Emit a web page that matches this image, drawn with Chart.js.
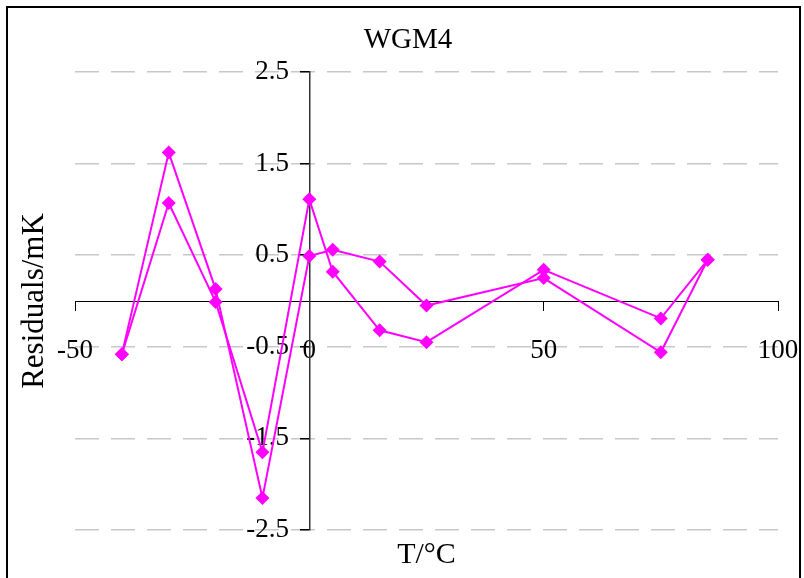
<!DOCTYPE html>
<html>
<head>
<meta charset="utf-8">
<title>WGM4</title>
<script src="https://cdn.jsdelivr.net/npm/chart.js@4"></script>
<style>
  html, body { margin: 0; padding: 0; background: #fff; }
  #wrap { position: relative; width: 804px; height: 578px; overflow: hidden; }
  #frame { position: absolute; left: 6px; top: 6px; width: 795px; height: 620px; border: 2px solid #000; box-sizing: border-box; }
  canvas { position: absolute; left: 0; top: 0; }
</style>
</head>
<body>
<div id="wrap">
  <div id="frame"></div>
  <canvas id="chart" width="804" height="578"></canvas>
</div>
<script>
// Daten
const temps = [-40, -30, -20, -10, 0, 5, 15, 25, 50, 75, 85];
const residualsA = [-0.58, 1.62, 0.13, -2.15, 0.49, 0.56, 0.43, -0.05, 0.25, -0.56, 0.45];
const residualsB = [-0.58, 1.07, -0.01, -1.65, 1.11, 0.32, -0.32, -0.45, 0.34, -0.19, 0.45];

const xTicks = [-50, 0, 50, 100];
const yTicks = [-2.5, -1.5, -0.5, 0.5, 1.5, 2.5];

const titleText = "WGM4";
const xTitle = "T/°C";
const yTitle = "Residuals/mK";

const serif = "'Liberation Serif', 'Times New Roman', serif";
const magenta = "#ff00ff";

function toPoints(ys) {
  return temps.map((t, i) => ({ x: t, y: ys[i] }));
}

function makeDataset(ys) {
  return {
    data: toPoints(ys),
    showLine: true,
    borderColor: magenta,
    backgroundColor: magenta,
    borderWidth: 2,
    pointStyle: "rectRot",
    pointRadius: 7,
    pointHoverRadius: 7,
    pointBorderWidth: 0,
    tension: 0,
  };
}

// Titel und Achsentitel zeichnen (Excel-Stil)
const titlesPlugin = {
  id: "titles",
  afterDraw(chart) {
    const ctx = chart.ctx;
    const area = chart.chartArea;
    ctx.save();
    ctx.fillStyle = "#000";
    ctx.textAlign = "center";
    ctx.textBaseline = "middle";
    ctx.font = "29px " + serif;
    ctx.fillText(titleText, 408, 40);
    ctx.font = "30px " + serif;
    ctx.fillText(xTitle, (area.left + area.right) / 2, 555);
    ctx.font = "31px " + serif;
    ctx.translate(35, (area.top + area.bottom) / 2);
    ctx.rotate(-Math.PI / 2);
    ctx.fillText(yTitle, 0, 0);
    ctx.restore();
  },
};

const ctx = document.getElementById("chart").getContext("2d");
new Chart(ctx, {
  type: "scatter",
  data: {
    datasets: [makeDataset(residualsA), makeDataset(residualsB)],
  },
  options: {
    responsive: false,
    animation: false,
    layout: {
      padding: { left: 75, right: 26, top: 72, bottom: 48 },
    },
    plugins: {
      legend: { display: false },
      tooltip: { enabled: false },
      title: { display: false },
    },
    scales: {
      x: {
        type: "linear",
        position: { y: 0 },
        min: -50,
        max: 100,
        afterBuildTicks: (axis) => {
          axis.ticks = xTicks.map((v) => ({ value: v }));
        },
        afterFit: (axis) => {
          axis.paddingLeft = 0;
          axis.paddingRight = 0;
        },
        grid: {
          drawOnChartArea: false,
          drawTicks: true,
          tickLength: 9,
          tickColor: "#000",
          color: "#000",
        },
        border: { display: true, color: "#000", width: 1 },
        ticks: {
          color: "#000",
          padding: 25,
          maxRotation: 0,
          font: { family: serif, size: 27 },
        },
      },
      y: {
        type: "linear",
        position: { x: 0 },
        min: -2.5,
        max: 2.5,
        afterBuildTicks: (axis) => {
          axis.ticks = yTicks.map((v) => ({ value: v }));
        },
        afterFit: (axis) => {
          axis.paddingTop = 0;
          axis.paddingBottom = 0;
        },
        grid: {
          color: "#c8c8c8",
          lineWidth: 1.5,
          drawTicks: true,
          tickLength: 9,
          tickColor: "#000",
        },
        border: { display: true, color: "#333", width: 1.5, dash: [24, 12] },
        ticks: {
          color: "#000",
          font: { family: serif, size: 27 },
          // Abstand zur Achse über Leerzeichen (Labels sitzen sonst direkt an der Achse)
          callback: (v) => String(v) + "   ",
        },
      },
    },
  },
  plugins: [titlesPlugin],
});
</script>
</body>
</html>
